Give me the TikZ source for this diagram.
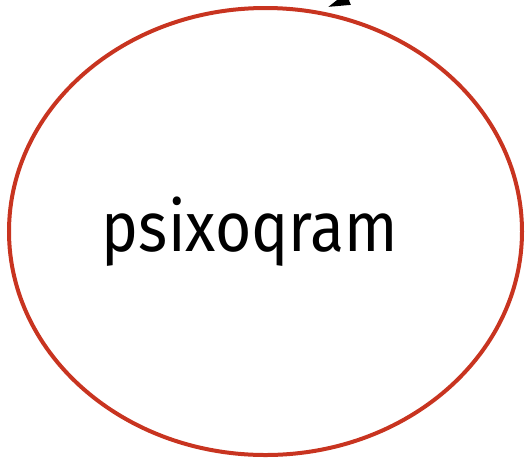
\documentclass[tikz,border=0pt]{standalone}
\usepackage{fontspec}
\setmainfont{Fira Sans}[FakeStretch=0.89]
\usetikzlibrary{shapes.geometric,arrows.meta}
\definecolor{ringred}{RGB}{200,52,32}
\tikzset{
  ring/.style={ellipse, draw=ringred, line width=4pt, minimum width=513pt,
    minimum height=447pt, inner sep=0pt},
  ringlabel/.style={font=\fontsize{70}{80}\selectfont, inner sep=0pt},
  inarrow/.style={draw=black, line width=3pt, -{Triangle[length=22pt,width=12pt]}}
}
\begin{document}
\begin{tikzpicture}[x=1pt,y=-1pt]
  \useasboundingbox (0,0) rectangle (527,459);
  \node[ring] (e) at (265.5,231.5) {};
  \node[ringlabel] (lbl) at (250,231.5) {psixoqram};
  % incoming arrow, mostly beyond the top edge
  \coordinate (src) at (421,-30);
  \coordinate (tip) at (328,7);
  \draw[inarrow] (src) -- (tip);
\end{tikzpicture}
\end{document}
